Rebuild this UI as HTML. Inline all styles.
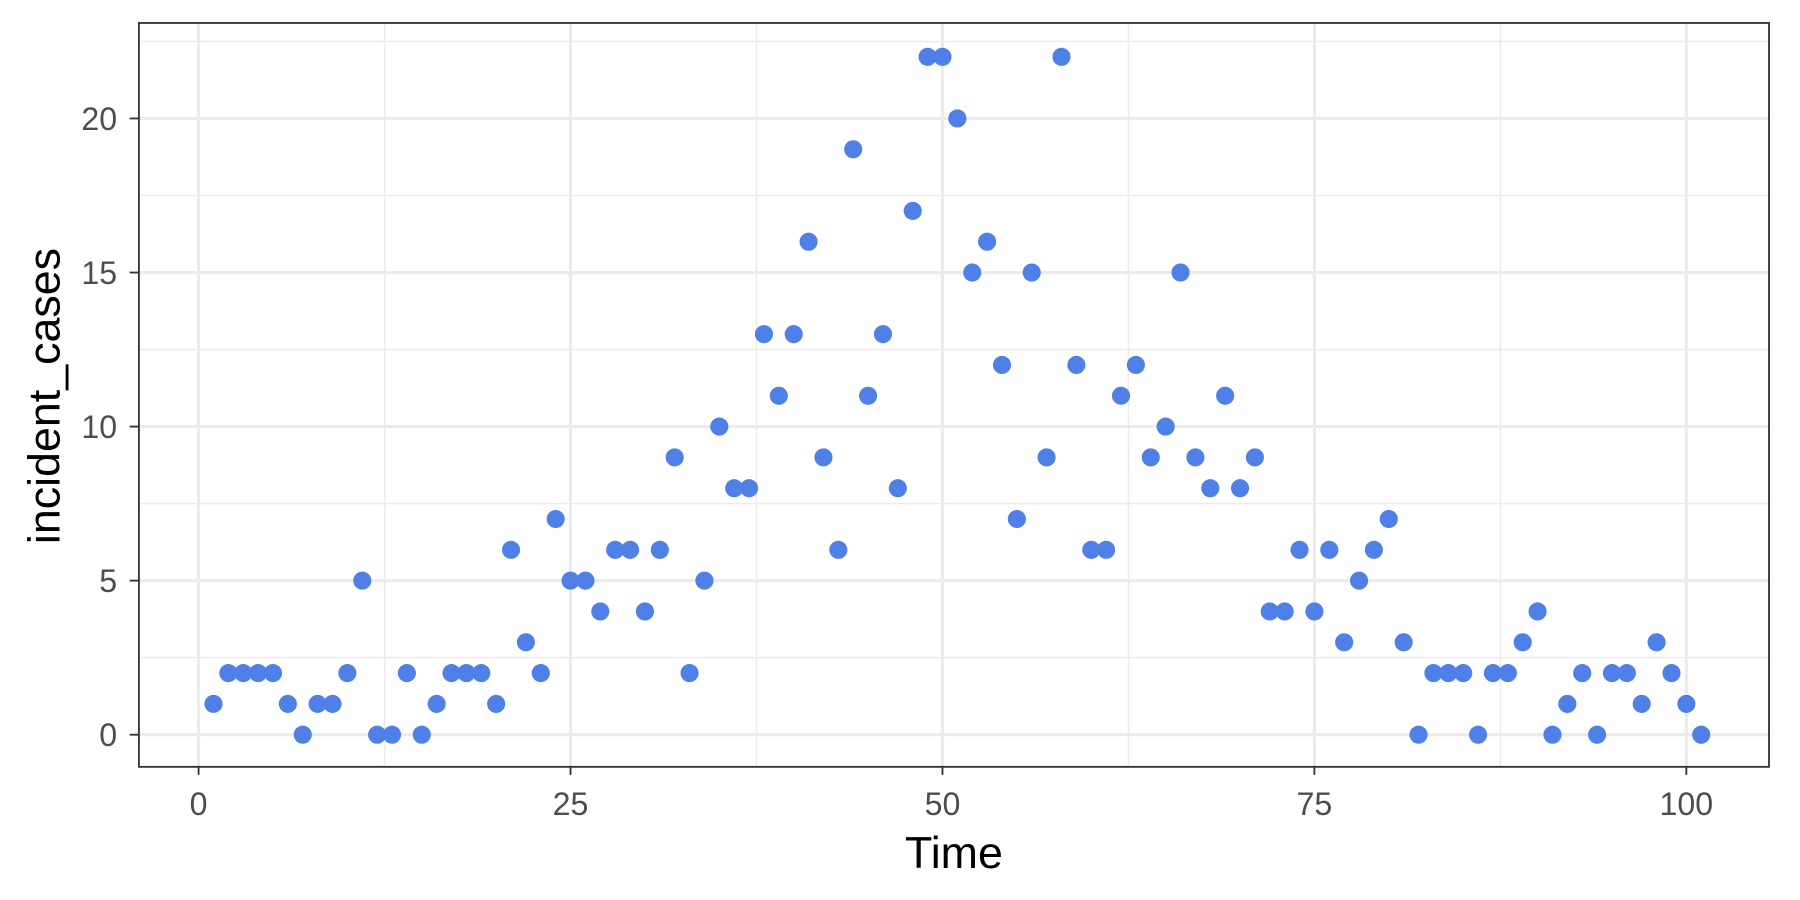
<!DOCTYPE html>
<html><head><meta charset="utf-8"><style>
html,body{margin:0;padding:0;background:#fff;overflow:hidden;}
svg{display:block;font-family:"Liberation Sans",Arial,sans-serif;}
</style></head><body>
<svg id="s" width="1800" height="900" viewBox="0 0 1568 784" preserveAspectRatio="none" xmlns="http://www.w3.org/2000/svg">
<rect width="1568" height="784" fill="#fff"/>
<g id="grid"></g>
<g id="pts"></g>
<rect x="121" y="20" width="1420" height="648" fill="none" stroke="#333" stroke-width="1.6"/>
<g id="ticks"></g>
<text x="831" y="756" font-size="39" text-anchor="middle" fill="#000">Time</text>
<text transform="translate(52,345) rotate(-90)" font-size="39" text-anchor="middle" fill="#000">incident_cases</text>
</svg>
<script>
var ns="http://www.w3.org/2000/svg";
function X(t){return 173+t*12.96;}
function Y(v){return 640-v*26.84;}
function el(p,n,a,txt){var e=document.createElementNS(ns,n);for(var k in a)e.setAttribute(k,a[k]);if(txt!==undefined)e.textContent=txt;document.getElementById(p).appendChild(e);}
[12.5,37.5,62.5,87.5].forEach(function(t){el("grid","line",{x1:X(t),x2:X(t),y1:20,y2:668,stroke:"#ebebeb","stroke-width":1.3});});
[2.5,7.5,12.5,17.5,22.5].forEach(function(v){el("grid","line",{x1:121,x2:1541,y1:Y(v),y2:Y(v),stroke:"#ebebeb","stroke-width":1.3});});
[0,25,50,75,100].forEach(function(t){el("grid","line",{x1:X(t),x2:X(t),y1:20,y2:668,stroke:"#ebebeb","stroke-width":2.7});
 el("ticks","line",{x1:X(t),x2:X(t),y1:668,y2:675,stroke:"#333","stroke-width":1.6});
 el("ticks","text",{x:X(t),y:710,"font-size":28,"text-anchor":"middle",fill:"#4d4d4d"},String(t));});
[0,5,10,15,20].forEach(function(v){el("grid","line",{x1:121,x2:1541,y1:Y(v),y2:Y(v),stroke:"#ebebeb","stroke-width":2.7});
 el("ticks","line",{x1:113,x2:121,y1:Y(v),y2:Y(v),stroke:"#333","stroke-width":1.6});
 el("ticks","text",{x:102,y:Y(v)+10,"font-size":28,"text-anchor":"end",fill:"#4d4d4d"},String(v));});
var d=[1,2,2,2,2,1,0,1,1,2,5,0,0,2,0,1,2,2,2,1,6,3,2,7,5,5,4,6,6,4,6,9,2,5,10,8,8,13,11,13,16,9,6,19,11,13,8,17,22,22,20,15,16,12,7,15,9,22,12,6,6,11,12,9,10,15,9,8,11,8,9,4,4,6,4,6,3,5,6,7,3,0,2,2,2,0,2,2,3,4,0,1,2,0,2,2,1,3,2,1,0];
d.forEach(function(v,i){el("pts","circle",{cx:X(i+1),cy:Y(v),r:7.9,fill:"#4f80e8"});});
</script>
</body></html>
